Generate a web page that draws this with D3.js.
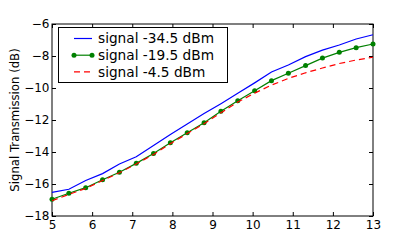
<html>
<head>
</head>
<body style="margin:0">

<script src="https://d3js.org/d3.v7.min.js"></script>
<script>

    // x positions (20 samples between 5 and 13)
    var xValues = [5, 5.42, 5.84, 6.26, 6.68, 7.1, 7.53, 7.95, 8.37, 8.79,
                   9.21, 9.63, 10.05, 10.47, 10.89, 11.32, 11.74, 12.16, 12.58, 13];

    var low = [-16.52, -16.33, -15.78, -15.35, -14.75, -14.3, -13.6, -12.9, -12.25, -11.6,
               -10.98, -10.33, -9.68, -9.0, -8.56, -8.04, -7.63, -7.31, -6.94, -6.67];
    var mid = [-16.95, -16.58, -16.23, -15.73, -15.27, -14.71, -14.1, -13.42, -12.79, -12.17,
               -11.46, -10.79, -10.17, -9.54, -9.08, -8.6, -8.13, -7.77, -7.48, -7.25];
    var high = [-17.05, -16.65, -16.28, -15.78, -15.3, -14.75, -14.15, -13.48, -12.85, -12.23,
                -11.55, -10.88, -10.32, -9.82, -9.4, -9.05, -8.75, -8.47, -8.25, -8.08];

    var labels = ["signal -34.5 dBm", "signal -19.5 dBm", "signal -4.5 dBm"];
    var xTicks = [5, 6, 7, 8, 9, 10, 11, 12, 13];
    var yTicks = [-18, -16, -14, -12, -10, -8, -6];

    var width = 415,
        height = 240,
        margin = {top: 24, right: 42, bottom: 24, left: 52},
        font = "DejaVu Sans, sans-serif";

    var series = [
        {name: labels[0], values: low, color: "#0000ff", dash: null, marker: false},
        {name: labels[1], values: mid, color: "#008000", dash: null, marker: true},
        {name: labels[2], values: high, color: "#ff0000", dash: "6,4", marker: false}
    ];

    var svg = d3.select("body").append("svg").attr("width", width).attr("height", height);

    svg.append("rect").attr("width", width).attr("height", height).attr("fill", "#fff");

    var x = d3.scaleLinear().domain([5, 13]).range([margin.left, width - margin.right]);
    var y = d3.scaleLinear().domain([-18, -6]).range([height - margin.bottom, margin.top]);

    var fmt = function (d) { return String(d).replace("-", "\u2212"); };

    // axes with inward ticks on all sides
    svg.append("g").attr("transform", "translate(0," + y(-18) + ")")
        .call(d3.axisBottom(x).tickValues(xTicks).tickSizeInner(-4).tickSizeOuter(0).tickPadding(4).tickFormat(fmt));
    svg.append("g").attr("transform", "translate(0," + y(-6) + ")")
        .call(d3.axisTop(x).tickValues(xTicks).tickSizeInner(-4).tickSizeOuter(0).tickFormat(""));
    svg.append("g").attr("transform", "translate(" + x(5) + ",0)")
        .call(d3.axisLeft(y).tickValues(yTicks).tickSizeInner(-4).tickSizeOuter(0).tickPadding(2.5).tickFormat(fmt));
    svg.append("g").attr("transform", "translate(" + x(13) + ",0)")
        .call(d3.axisRight(y).tickValues(yTicks).tickSizeInner(-4).tickSizeOuter(0).tickFormat(""));

    svg.selectAll(".domain").remove();
    svg.selectAll(".tick line").attr("stroke", "#000");
    svg.selectAll(".tick text").attr("fill", "#000")
        .style("font-family", font).style("font-size", "12px");

    svg.append("rect")
        .attr("x", x(5)).attr("y", y(-6))
        .attr("width", x(13) - x(5)).attr("height", y(-18) - y(-6))
        .attr("fill", "none").attr("stroke", "#000").attr("stroke-width", 1);

    svg.append("text")
        .attr("transform", "translate(18.5," + y(-12) + ") rotate(-90)")
        .attr("text-anchor", "middle")
        .style("font-family", font)
        .style("font-size", "11.7px")
        .text("Signal Transmission (dB)");

    var line = d3.line()
        .x(function (d, i) { return x(xValues[i]); })
        .y(function (d) { return y(d); });

    var plot = svg.append("g");

    series.forEach(function (s) {
        plot.append("path")
            .datum(s.values)
            .attr("d", line)
            .attr("fill", "none")
            .attr("stroke", s.color)
            .attr("stroke-width", 1.2)
            .attr("stroke-dasharray", s.dash);
        if (s.marker) {
            plot.selectAll(null).data(s.values).enter().append("circle")
                .attr("cx", function (d, i) { return x(xValues[i]); })
                .attr("cy", function (d) { return y(d); })
                .attr("r", 2.5)
                .attr("fill", s.color);
        }
    });

    // legend
    var legend = svg.append("g");
    legend.append("rect")
        .attr("x", 58.5).attr("y", 27.5).attr("width", 169).attr("height", 55)
        .attr("fill", "#fff").attr("stroke", "#000").attr("stroke-width", 1);

    series.forEach(function (s, i) {
        var ly = 38.5 + i * 16.7;
        legend.append("line")
            .attr("x1", 74).attr("x2", 92).attr("y1", ly).attr("y2", ly)
            .attr("stroke", s.color).attr("stroke-width", 1.2)
            .attr("stroke-dasharray", s.dash);
        if (s.marker) {
            legend.selectAll(null).data([74, 92]).enter().append("circle")
                .attr("cx", function (d) { return d; }).attr("cy", ly).attr("r", 2.5)
                .attr("fill", s.color);
        }
        legend.append("text")
            .attr("x", 98).attr("y", ly).attr("dy", "0.35em")
            .style("font-family", font)
            .style("font-size", "13.7px")
            .text(s.name);
    });

</script>
</body>
</html>
